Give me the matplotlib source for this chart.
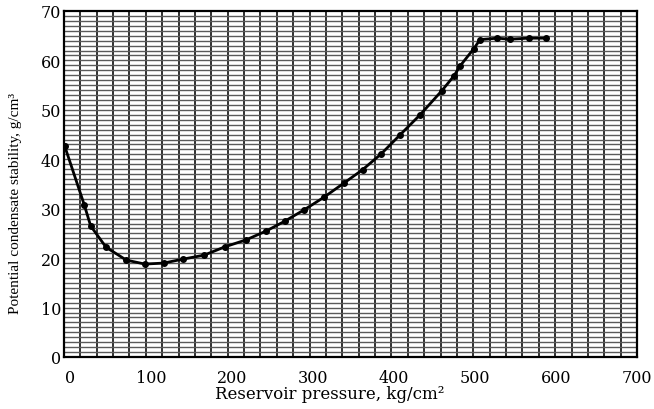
import numpy as np
import matplotlib
matplotlib.use("Agg")
import matplotlib.pyplot as plt

# Data
pressure = [-7, 17, 25, 44, 69, 92, 115, 139, 165, 191, 217, 242, 265, 289,
            313, 338, 361, 384, 407, 432, 459, 474, 481, 498, 506, 527, 543, 566, 588]
stability = [42.6, 30.8, 26.5, 22.2, 19.6, 18.8, 19.0, 19.8, 20.6, 22.3, 23.7, 25.5, 27.5, 29.8,
             32.3, 35.2, 37.9, 41.1, 44.9, 49.0, 53.9, 56.9, 58.8, 62.3, 64.2, 64.5, 64.3, 64.5, 64.5]
x_ticks = [0, 100, 200, 300, 400, 500, 600, 700]
y_ticks = [0, 10, 20, 30, 40, 50, 60, 70]

fig = plt.figure(figsize=(6.54, 4.10), dpi=100)
ax = fig.add_axes([64/654, 1 - 358/410, (637-64)/654, (358-12)/410])

xmin, xmax = -8, 700
ax.set_xlim(xmin, xmax)
ax.set_ylim(0, 70)

# graph-paper grid
for gx in np.linspace(xmin, xmax, 36)[1:-1]:
    ax.axvline(gx, color="#303030", lw=1.4, zorder=1)
for gy in np.arange(1, 70, 1):
    ax.axhline(gy, color="#5a5a5a", lw=1.0, zorder=1)

ax.plot(pressure, stability, color="black", lw=2.0, marker="o", ms=4.0,
        zorder=3, solid_joinstyle="round")

ax.set_xticks(x_ticks)
ax.set_yticks(y_ticks)
tick_font = dict(family="DejaVu Serif", size=11.5)
ax.set_xticklabels([str(v) for v in x_ticks], **tick_font)
ax.set_yticklabels([str(v) for v in y_ticks], **tick_font)
ax.tick_params(axis="both", length=0)
ax.tick_params(axis="x", pad=9)
ax.tick_params(axis="y", pad=2)

for s in ax.spines.values():
    s.set_linewidth(1.6)
    s.set_color("black")
    s.set_zorder(4)

ax.set_xlabel("Reservoir pressure, kg/cm²", family="DejaVu Serif", size=12)
ax.xaxis.set_label_coords((330 - 64) / (637 - 64), -(395 - 358) / (358 - 12))
ax.xaxis.label.set_va("center")
ax.set_ylabel("Potential condensate stability, g/cm³", family="Liberation Serif", size=11)
ax.yaxis.set_label_coords(-(64 - 16) / (637 - 64), (358 - 204) / (358 - 12))
ax.yaxis.label.set_va("center")

fig.savefig("out.png", dpi=100)
